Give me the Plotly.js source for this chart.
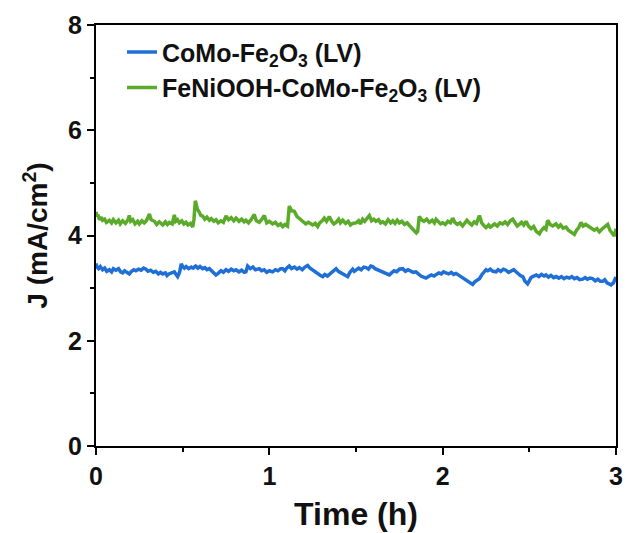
<!DOCTYPE html>
<html>
<head>
<meta charset="utf-8">
<script src="https://cdn.plot.ly/plotly-3.0.1.min.js"></script>
<style>html,body{margin:0;padding:0;background:#fff;}#plot{width:626px;height:533px;}</style>
</head>
<body>
<div id="plot"></div>
<script>
const seriesNames = ["CoMo-Fe<sub>2</sub>O<sub>3</sub> (LV)", "FeNiOOH-CoMo-Fe<sub>2</sub>O<sub>3</sub> (LV)"];
const xTicks = [0, 1, 2, 3];
const yTicks = [0, 2, 4, 6, 8];

const tCoMo = [0,0.006,0.015,0.025,0.038,0.05,0.062,0.077,0.09,0.1,0.115,0.13,0.142,0.154,0.165,0.178,0.192,0.205,0.218,0.23,0.245,0.26,0.275,0.288,0.3,0.315,0.33,0.345,0.36,0.372,0.385,0.4,0.41,0.42,0.435,0.452,0.462,0.471,0.482,0.492,0.5,0.51,0.52,0.535,0.55,0.56,0.575,0.588,0.6,0.615,0.628,0.64,0.654,0.668,0.68,0.692,0.705,0.721,0.735,0.75,0.765,0.78,0.795,0.808,0.825,0.84,0.855,0.865,0.875,0.89,0.905,0.92,0.942,0.955,0.97,0.985,1.0,1.019,1.035,1.05,1.065,1.077,1.09,1.1,1.115,1.128,1.145,1.16,1.173,1.19,1.205,1.221,1.235,1.25,1.265,1.28,1.295,1.308,1.32,1.335,1.346,1.36,1.372,1.385,1.398,1.413,1.425,1.44,1.452,1.465,1.481,1.49,1.5,1.515,1.53,1.545,1.558,1.572,1.585,1.596,1.61,1.625,1.64,1.654,1.668,1.68,1.692,1.705,1.72,1.735,1.75,1.77,1.785,1.8,1.815,1.83,1.846,1.86,1.875,1.89,1.904,1.918,1.935,1.95,1.962,1.978,1.992,2.005,2.019,2.035,2.05,2.063,2.077,2.09,2.105,2.12,2.135,2.15,2.163,2.173,2.185,2.2,2.212,2.225,2.24,2.25,2.26,2.275,2.29,2.308,2.32,2.335,2.35,2.365,2.38,2.395,2.41,2.423,2.435,2.448,2.462,2.475,2.49,2.5,2.51,2.52,2.54,2.555,2.57,2.585,2.596,2.61,2.625,2.64,2.654,2.67,2.685,2.7,2.715,2.731,2.745,2.76,2.775,2.79,2.808,2.822,2.835,2.85,2.865,2.88,2.895,2.91,2.923,2.935,2.948,2.96,2.971,2.985,3.0];
const jCoMo = [3.47,3.40,3.37,3.41,3.35,3.38,3.32,3.35,3.31,3.37,3.34,3.37,3.31,3.29,3.33,3.30,3.27,3.32,3.35,3.33,3.36,3.34,3.38,3.36,3.32,3.34,3.30,3.32,3.27,3.30,3.27,3.29,3.24,3.27,3.29,3.31,3.26,3.22,3.30,3.46,3.41,3.38,3.41,3.37,3.40,3.38,3.42,3.38,3.41,3.37,3.39,3.35,3.37,3.32,3.29,3.25,3.28,3.33,3.30,3.35,3.32,3.36,3.33,3.35,3.31,3.34,3.30,3.31,3.42,3.37,3.40,3.35,3.37,3.33,3.35,3.30,3.33,3.31,3.35,3.33,3.37,3.37,3.33,3.38,3.42,3.37,3.40,3.36,3.39,3.35,3.40,3.43,3.38,3.34,3.30,3.27,3.24,3.22,3.26,3.23,3.26,3.30,3.35,3.37,3.32,3.30,3.27,3.24,3.22,3.30,3.36,3.32,3.35,3.38,3.35,3.40,3.39,3.36,3.42,3.41,3.37,3.35,3.33,3.30,3.28,3.26,3.25,3.29,3.33,3.31,3.36,3.37,3.32,3.35,3.33,3.30,3.31,3.26,3.23,3.21,3.19,3.22,3.25,3.23,3.25,3.29,3.27,3.31,3.29,3.27,3.30,3.26,3.28,3.25,3.21,3.18,3.16,3.11,3.08,3.07,3.12,3.16,3.18,3.25,3.31,3.35,3.33,3.36,3.32,3.31,3.35,3.32,3.36,3.34,3.30,3.33,3.35,3.31,3.27,3.24,3.22,3.13,3.08,3.14,3.20,3.22,3.25,3.22,3.26,3.23,3.25,3.21,3.24,3.20,3.22,3.19,3.22,3.18,3.21,3.19,3.22,3.18,3.20,3.16,3.17,3.20,3.17,3.19,3.18,3.14,3.17,3.13,3.13,3.16,3.10,3.08,3.06,3.10,3.21];

const tFeNi = [0,0.005,0.01,0.02,0.03,0.038,0.05,0.06,0.077,0.09,0.1,0.115,0.13,0.14,0.154,0.17,0.185,0.192,0.2,0.212,0.225,0.24,0.25,0.265,0.278,0.288,0.298,0.308,0.318,0.337,0.35,0.365,0.385,0.40,0.412,0.423,0.44,0.452,0.46,0.47,0.481,0.495,0.507,0.519,0.53,0.545,0.558,0.565,0.573,0.585,0.596,0.605,0.615,0.628,0.64,0.654,0.665,0.68,0.692,0.705,0.721,0.735,0.75,0.765,0.78,0.795,0.808,0.825,0.84,0.855,0.865,0.88,0.895,0.913,0.925,0.942,0.955,0.971,0.985,1.0,1.019,1.035,1.05,1.065,1.077,1.09,1.105,1.115,1.128,1.144,1.16,1.175,1.192,1.21,1.225,1.25,1.265,1.279,1.29,1.305,1.317,1.33,1.346,1.36,1.372,1.385,1.4,1.41,1.423,1.44,1.455,1.468,1.481,1.5,1.515,1.525,1.538,1.55,1.565,1.577,1.59,1.603,1.615,1.63,1.642,1.654,1.67,1.685,1.7,1.712,1.725,1.738,1.75,1.765,1.78,1.795,1.808,1.82,1.835,1.848,1.856,1.865,1.878,1.892,1.908,1.923,1.94,1.952,1.962,1.975,1.988,2.0,2.015,2.03,2.045,2.058,2.07,2.085,2.1,2.115,2.128,2.14,2.154,2.168,2.182,2.195,2.212,2.225,2.24,2.25,2.265,2.275,2.288,2.3,2.315,2.33,2.346,2.36,2.375,2.39,2.404,2.415,2.43,2.442,2.455,2.468,2.481,2.495,2.51,2.525,2.54,2.558,2.57,2.585,2.596,2.606,2.62,2.635,2.654,2.668,2.68,2.695,2.712,2.725,2.74,2.76,2.772,2.785,2.798,2.81,2.825,2.846,2.86,2.875,2.89,2.904,2.918,2.935,2.952,2.965,2.978,2.99,3.0];
const jFeNi = [4.45,4.36,4.40,4.30,4.35,4.29,4.31,4.25,4.29,4.24,4.30,4.24,4.29,4.22,4.28,4.23,4.30,4.38,4.27,4.30,4.22,4.27,4.22,4.28,4.24,4.27,4.33,4.41,4.30,4.27,4.21,4.26,4.20,4.26,4.21,4.25,4.22,4.39,4.27,4.30,4.24,4.28,4.22,4.25,4.20,4.23,4.16,4.30,4.66,4.50,4.44,4.38,4.37,4.31,4.35,4.29,4.32,4.27,4.30,4.24,4.28,4.25,4.37,4.30,4.34,4.28,4.33,4.27,4.31,4.26,4.29,4.24,4.30,4.40,4.28,4.25,4.30,4.38,4.24,4.27,4.22,4.25,4.19,4.22,4.17,4.21,4.18,4.56,4.47,4.46,4.36,4.31,4.27,4.22,4.25,4.20,4.23,4.17,4.24,4.28,4.33,4.27,4.36,4.27,4.22,4.25,4.31,4.24,4.29,4.23,4.27,4.20,4.23,4.24,4.28,4.22,4.31,4.27,4.33,4.38,4.28,4.31,4.27,4.30,4.24,4.26,4.22,4.30,4.24,4.28,4.23,4.29,4.24,4.27,4.21,4.24,4.19,4.15,4.10,4.05,4.08,4.36,4.30,4.27,4.31,4.25,4.29,4.24,4.31,4.27,4.22,4.24,4.21,4.27,4.24,4.33,4.25,4.21,4.24,4.18,4.24,4.29,4.24,4.20,4.26,4.23,4.38,4.24,4.18,4.15,4.20,4.16,4.19,4.22,4.18,4.24,4.22,4.26,4.21,4.28,4.31,4.24,4.18,4.21,4.25,4.20,4.27,4.18,4.13,4.17,4.08,4.03,4.10,4.15,4.12,4.29,4.21,4.18,4.22,4.16,4.20,4.14,4.16,4.10,4.06,4.02,4.10,4.15,4.25,4.18,4.21,4.17,4.14,4.10,4.13,4.07,4.12,4.17,4.21,4.10,4.05,3.99,4.13];

const font = "Arial, 'Liberation Sans', sans-serif";

const traces = [
  {x: tCoMo, y: jCoMo, name: seriesNames[0], type: 'scatter', mode: 'lines',
   line: {color: '#1f6fd6', width: 3.5}},
  {x: tFeNi, y: jFeNi, name: seriesNames[1], type: 'scatter', mode: 'lines',
   line: {color: '#5bab2a', width: 3.5}}
];

const axisCommon = {
  showline: true, linecolor: '#000', linewidth: 2, mirror: true,
  ticks: 'outside', ticklen: 7, tickwidth: 2, tickcolor: '#000',
  showgrid: false, zeroline: false,
  tickfont: {family: font, size: 25, color: '#111', weight: 'bold'}
};

const layout = {
  width: 626, height: 533,
  margin: {l: 96, r: 10, t: 25, b: 87},
  paper_bgcolor: '#fff', plot_bgcolor: '#fff',
  showlegend: true,
  legend: {x: 0.05, y: 0.99, xanchor: 'left', yanchor: 'top', bgcolor: 'rgba(0,0,0,0)',
           font: {family: font, size: 25, color: '#111', weight: 'bold'}, tracegroupgap: 0},
  xaxis: Object.assign({}, axisCommon, {
    range: [0, 3], tickvals: xTicks, ticktext: xTicks.map(String),
    minor: {dtick: 0.5, tick0: 0, ticks: 'outside', ticklen: 4, tickwidth: 2, tickcolor: '#000'},
    title: {text: 'Time (h)', font: {family: font, size: 32, color: '#111', weight: 'bold'}, standoff: 14}
  }),
  yaxis: Object.assign({}, axisCommon, {
    range: [0, 8], tickvals: yTicks, ticktext: yTicks.map(String),
    minor: {dtick: 1, tick0: 0, ticks: 'outside', ticklen: 4, tickwidth: 2, tickcolor: '#000'},
    title: {text: 'J (mA/cm<sup>2</sup>)', font: {family: font, size: 28, color: '#111', weight: 'bold'}, standoff: 12}
  })
};

Plotly.newPlot('plot', traces, layout, {displayModeBar: false, staticPlot: true});
</script>
</body>
</html>
